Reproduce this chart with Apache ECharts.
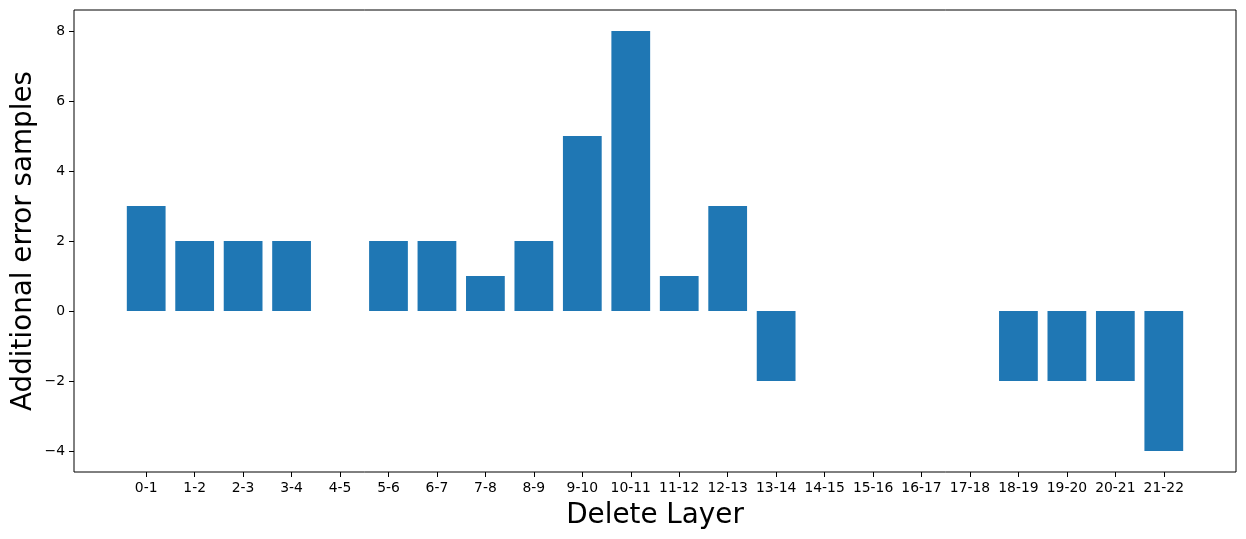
<!DOCTYPE html>
<html>
<head>
<meta charset="utf-8">
<script src="https://cdn.jsdelivr.net/npm/echarts@6/dist/echarts.min.js"></script>
<style>
html,body{margin:0;padding:0;background:#fff;}
#chart{width:1246px;height:539px;}
</style>
</head>
<body>
<div id="chart"></div>
<script>
const categories = ['0-1','1-2','2-3','3-4','4-5','5-6','6-7','7-8','8-9','9-10','10-11','11-12','12-13','13-14','14-15','15-16','16-17','17-18','18-19','19-20','20-21','21-22'];
const values = [3,2,2,2,0,2,2,1,2,5,8,1,3,-2,0,0,0,0,-2,-2,-2,-4];
const yTicks = [-4,-2,0,2,4,6,8];

const FONT = 'DejaVu Sans';
const plotLeft = 74, plotRight = 1236, plotTop = 10, plotBottom = 472;
const xMin = -1.49, xMax = 22.49;
const unit = (plotRight - plotLeft) / (xMax - xMin);
const catLeft = plotLeft + (-0.5 - xMin) * unit;
const catWidth = categories.length * unit;

const chart = echarts.init(document.getElementById('chart'), null, {renderer: 'canvas'});
chart.setOption({
  animation: false,
  backgroundColor: '#ffffff',
  textStyle: {fontFamily: FONT},
  grid: [
    {left: plotLeft, top: plotTop, width: plotRight - plotLeft, height: plotBottom - plotTop,
     show: true, borderColor: '#000', borderWidth: 1, backgroundColor: 'transparent',
     containLabel: false, outerBoundsMode: 'none'},
    {left: catLeft, top: plotTop, width: catWidth, height: plotBottom - plotTop, show: false,
     containLabel: false, outerBoundsMode: 'none'}
  ],
  xAxis: [
    {gridIndex: 0, type: 'value', min: xMin, max: xMax,
     axisLine: {show: false, onZero: false}, axisTick: {show: false}, axisLabel: {show: false}, splitLine: {show: false},
     name: 'Delete Layer', nameLocation: 'middle', nameGap: 30, nameMoveOverlap: false,
     nameTextStyle: {fontFamily: FONT, fontSize: 27.8, color: '#000'}},
    {gridIndex: 1, type: 'category', data: categories, boundaryGap: true,
     axisLine: {show: false, onZero: false},
     axisTick: {show: true, alignWithLabel: true, length: 5, lineStyle: {color: '#000', width: 1}},
     axisLabel: {margin: 9, fontFamily: FONT, fontSize: 13.9, color: '#000', interval: 0},
     splitLine: {show: false}}
  ],
  yAxis: [
    {gridIndex: 0, type: 'value', min: -4.6, max: 8.6,
     axisLine: {show: false, onZero: false},
     axisTick: {show: true, length: 5, customValues: yTicks, lineStyle: {color: '#000', width: 1}},
     axisLabel: {margin: 9, fontFamily: FONT, fontSize: 13.9, color: '#000', customValues: yTicks,
       formatter: v => v < 0 ? '\u2212' + Math.abs(v) : String(v)},
     splitLine: {show: false},
     name: 'Additional error samples', nameLocation: 'middle', nameGap: 36, nameMoveOverlap: false,
     nameTextStyle: {fontFamily: FONT, fontSize: 27.8, color: '#000'}},
    {gridIndex: 1, type: 'value', min: -4.6, max: 8.6, show: false, splitLine: {show: false},
     axisLine: {onZero: false}}
  ],
  series: [{
    type: 'bar', xAxisIndex: 1, yAxisIndex: 1,
    data: values, barWidth: '80%',
    itemStyle: {color: '#1f77b4'}
  }]
});
</script>
</body>
</html>
